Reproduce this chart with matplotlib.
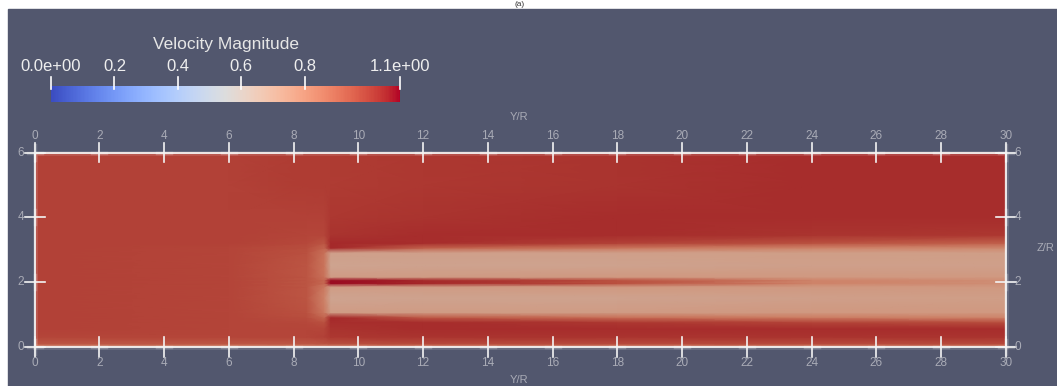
import numpy as np
import matplotlib.pyplot as plt
from matplotlib.colors import ListedColormap, Normalize
from matplotlib.patches import Rectangle
import matplotlib.cm as cm

plt.rcParams['font.family'] = ['Liberation Sans', 'DejaVu Sans']

# Streamwise stations (Y/R) and vertical levels (Z/R) of the slice
y_stations = [0.0, 6.0, 8.4, 8.95, 9.15, 12.0, 18.0, 24.0, 30.0]
z_levels = [0.0, 0.1, 0.3, 0.55, 0.75, 0.9, 1.05, 1.5, 1.85, 1.95,
            2.05, 2.15, 2.5, 2.9, 3.05, 3.2, 3.45, 4.0, 5.0, 6.0]

# Velocity magnitude profiles u(z) at each station
u_inlet = [0.86, 0.95, 0.99, 1.0, 1.0, 1.0, 1.0, 1.0, 1.0, 1.0,
           1.0, 1.0, 1.0, 1.0, 1.0, 1.0, 1.0, 1.0, 1.0, 1.0]
u_upstream = [0.86, 0.95, 0.99, 0.99, 0.99, 0.99, 0.99, 0.99, 0.99, 0.99,
              0.99, 0.99, 0.99, 0.99, 0.99, 1.0, 1.0, 1.0, 1.0, 1.0]
u_induction = [0.86, 0.95, 0.99, 0.99, 0.98, 0.97, 0.96, 0.95, 0.95, 0.95,
               0.95, 0.95, 0.95, 0.96, 0.97, 0.98, 0.99, 1.0, 1.01, 1.01]
u_rotor_front = [0.86, 0.96, 1.0, 0.99, 0.96, 0.91, 0.85, 0.82, 0.85, 0.9,
                 0.9, 0.87, 0.86, 0.87, 0.91, 0.95, 0.99, 1.0, 1.01, 1.01]
u_near_wake = [0.87, 0.97, 1.02, 1.03, 1.04, 1.05, 0.73, 0.69, 0.73, 1.09,
               1.09, 0.73, 0.69, 0.71, 1.05, 1.05, 1.03, 1.02, 1.01, 1.01]
u_wake_12 = [0.88, 0.98, 1.03, 1.04, 1.04, 0.94, 0.73, 0.7, 0.73, 1.05,
             1.05, 0.73, 0.7, 0.71, 0.92, 1.04, 1.04, 1.03, 1.02, 1.02]
u_wake_18 = [0.88, 0.98, 1.03, 1.04, 1.02, 0.88, 0.73, 0.7, 0.74, 0.96,
             0.96, 0.74, 0.7, 0.71, 0.86, 1.0, 1.04, 1.04, 1.03, 1.03]
u_wake_24 = [0.88, 0.98, 1.03, 1.04, 0.99, 0.84, 0.74, 0.71, 0.74, 0.82,
             0.82, 0.74, 0.71, 0.72, 0.82, 0.96, 1.03, 1.04, 1.04, 1.04]
u_wake_30 = [0.88, 0.98, 1.03, 1.04, 0.97, 0.82, 0.74, 0.72, 0.74, 0.78,
             0.78, 0.74, 0.71, 0.72, 0.8, 0.92, 1.02, 1.04, 1.04, 1.04]

speed = np.column_stack([u_inlet, u_upstream, u_induction, u_rotor_front,
                         u_near_wake, u_wake_12, u_wake_18, u_wake_24, u_wake_30])

x_ticks = list(range(0, 31, 2))
z_ticks = [0, 2, 4, 6]
cb_ticks = [0.0, 0.2, 0.4, 0.6, 0.8, 1.1]
cb_labels = ['0.0e+00', '0.2', '0.4', '0.6', '0.8', '1.1e+00']

W, H = 1057, 386
fig = plt.figure(figsize=(W / 100, H / 100), dpi=100)
fig.patch.set_facecolor('white')

# render-window background
bg = fig.add_axes([0, 0, 1, 1], zorder=-10)
bg.add_patch(Rectangle((8 / W, 0), (W - 8) / W, (H - 9) / H, color='#52576E'))
bg.set_xlim(0, 1)
bg.set_ylim(0, 1)
bg.axis('off')
bg.text(520 / W, 1 - 4.5 / H, '(a)', ha='center', va='center', fontsize=6, color='#333333')

norm = Normalize(0.0, 1.1)
# slice surface is shaded a little darker than the bar
lit = plt.get_cmap('coolwarm')(np.linspace(0, 1, 256))
lit[:, :3] *= 0.84
lit_cmap = ListedColormap(lit)

x0, x1, yb, yt = 34.5, 1006.0, 346.5, 152.5
ax = fig.add_axes([x0 / W, (H - yb) / H, (x1 - x0) / W, (yb - yt) / H])
ax.pcolormesh(y_stations, z_levels, speed, shading='gouraud', cmap=lit_cmap, norm=norm)
ax.set_xlim(0, 30)
ax.set_ylim(0, 6)
ax.axis('off')

px = 30 / (x1 - x0)
py = 6 / (yb - yt)
lab = '#A9ABB6'
white = '#F4F4F4'

# outline with a soft glow
bx = [0, 30, 30, 0, 0]
by = [0, 0, 6, 6, 0]
ax.plot(bx, by, color='white', lw=3.5, alpha=0.12, clip_on=False)
ax.plot(bx, by, color=white, lw=1.3, clip_on=False)

for x in x_ticks:
    for yy, sgn in [(6, 1), (0, -1)]:
        ax.plot([x - 7 * px, x + 7 * px], [yy, yy], color='white', lw=2.5, alpha=0.2, clip_on=False)
        ax.plot([x, x], [yy - 10 * py, yy + 10 * py], color=white, lw=1.2, clip_on=False)
        ax.text(x, yy + sgn * 16 * py, str(x), ha='center', va='center',
                fontsize=8.5, color=lab)

for z in z_ticks:
    for xx, off in [(0, -13.5), (30, 12)]:
        ax.plot([xx, xx], [z - 7 * py, z + 7 * py], color='white', lw=2.5, alpha=0.2, clip_on=False)
        ax.plot([xx - 10 * px, xx + 10 * px], [z, z], color=white, lw=1.2, clip_on=False)
        ax.text(xx + off * px, z, str(z), ha='center', va='center', fontsize=8.5, color=lab)

ax.text((519 - x0) * px, 6 + 35.5 * py, 'Y/R', ha='center', va='center', fontsize=8, color=lab)
ax.text((519 - x0) * px, -33.5 * py, 'Y/R', ha='center', va='center', fontsize=8, color=lab)
ax.text(30 + 40 * px, (yb - 248) * py, 'Z/R', ha='center', va='center', fontsize=8, color=lab)

# colour legend
cax = fig.add_axes([51 / W, (H - 102) / H, 349 / W, 16 / H])
cb = fig.colorbar(cm.ScalarMappable(norm=norm, cmap='coolwarm'), cax=cax, orientation='horizontal')
cb.outline.set_visible(False)
cax.set_xticks([])
tr = cax.get_xaxis_transform()
for v, s in zip(cb_ticks, cb_labels):
    cax.plot([v, v], [1 - 3 / 16, 1 + 9 / 16], color='white', lw=1.2, transform=tr, clip_on=False)
    cax.text(v, 1 + 19.3 / 16, s, ha='center', va='center', fontsize=12,
             color='#EEEEEE', transform=tr)
cax.text((226 - 51) / 349 * 1.1, 1 + 41 / 16, 'Velocity Magnitude', ha='center', va='center',
         fontsize=12.5, color='#E6E6E6', transform=tr)

fig.savefig('out.png', dpi=100)
